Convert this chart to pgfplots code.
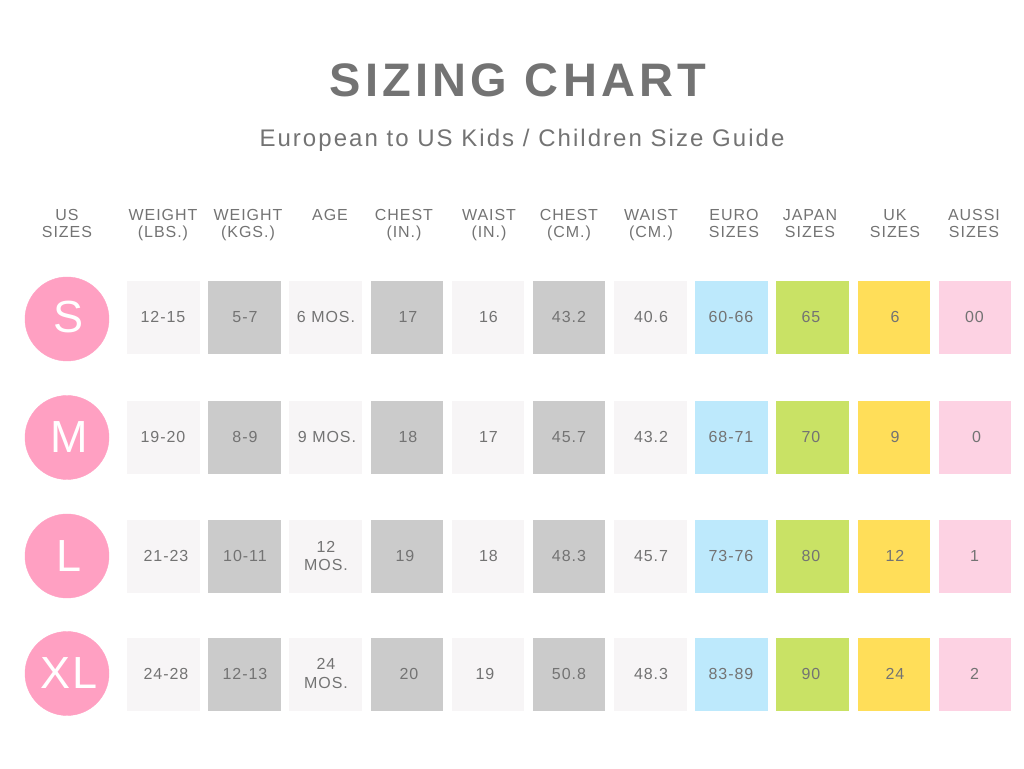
\documentclass[border=0pt]{standalone}
\usepackage{pgfplots}
\pgfplotsset{compat=1.18}
\usepackage{fontspec}
\setmainfont{Liberation Sans}
\newfontfamily\ls[LetterSpace=6]{Liberation Sans}
\newfontfamily\lst[LetterSpace=9]{Liberation Sans}
\newfontfamily\lss[LetterSpace=8.5]{Liberation Sans}
\definecolor{txt}{HTML}{737373}
\definecolor{lg}{HTML}{F7F5F6}
\definecolor{dg}{HTML}{CBCBCB}
\definecolor{bl}{HTML}{BDE9FC}
\definecolor{gr}{HTML}{C9E265}
\definecolor{ye}{HTML}{FFDE59}
\definecolor{pk}{HTML}{FDD2E3}
\definecolor{cp}{HTML}{FFA0C2}
% single-line cell: baseline placed 5.5 below the row centre
\newcommand{\cell}[3]{\node[anchor=base,inner sep=0pt,text=txt,font={\ls\fontsize{16}{18.5}\selectfont}] at (axis cs:#1,#2+5.5) {#3};}
% two-line cell
\newcommand{\cellt}[3]{\node[anchor=center,inner sep=0pt,align=center,text=txt,font={\ls\fontsize{16}{18.5}\selectfont}] at (axis cs:#1,#2) {#3};}
\newcommand{\hdr}[2]{\node[anchor=north,inner sep=0pt,align=center,text=txt,font={\ls\fontsize{16}{17.5}\selectfont}] at (axis cs:#1,209) {#2};}
\begin{document}
\begin{tikzpicture}
\begin{axis}[
  scale only axis, width=1024pt, height=768pt,
  xmin=0, xmax=1024, ymin=0, ymax=768, y dir=reverse,
  hide axis, clip=false, set layers=standard, mark layer=axis background]
\path (axis cs:0,0) rectangle (axis cs:1024,768);
% circles
\addplot[cp, only marks, mark=*, mark size=42] coordinates {(67,319) (67,437.5) (67,556) (67,673.5)};
% light cells
\addplot[lg, only marks, mark=square*, mark size=35.8] coordinates {
 (163,317.5) (163,437.5) (163,556.5) (163,674)
 (325.3,317.5) (325.3,437.5) (325.3,556.5) (325.3,674)
 (487.6,317.5) (487.6,437.5) (487.6,556.5) (487.6,674)
 (650,317.5) (650,437.5) (650,556.5) (650,674)};
% gray cells
\addplot[dg, only marks, mark=square*, mark size=35.8] coordinates {
 (244.2,317.5) (244.2,437.5) (244.2,556.5) (244.2,674)
 (406.5,317.5) (406.5,437.5) (406.5,556.5) (406.5,674)
 (568.8,317.5) (568.8,437.5) (568.8,556.5) (568.8,674)};
\addplot[bl, only marks, mark=square*, mark size=35.8] coordinates {(731,317.5) (731,437.5) (731,556.5) (731,674)};
\addplot[gr, only marks, mark=square*, mark size=35.8] coordinates {(812.3,317.5) (812.3,437.5) (812.3,556.5) (812.3,674)};
\addplot[ye, only marks, mark=square*, mark size=35.8] coordinates {(893.5,317.5) (893.5,437.5) (893.5,556.5) (893.5,674)};
\addplot[pk, only marks, mark=square*, mark size=35.8] coordinates {(974.6,317.5) (974.6,437.5) (974.6,556.5) (974.6,674)};
% title
\node[anchor=base,inner sep=0pt,text=txt,font={\lst\bfseries\fontsize{47}{50}\selectfont}] at (axis cs:518,97) {SIZING CHART};
\node[anchor=base,inner sep=0pt,text=txt,font={\lss\fontsize{24}{26}\selectfont}] at (axis cs:522,147) {European to US Kids / Children Size Guide};
% headers
\hdr{67}{US\\SIZES}
\hdr{163}{WEIGHT\\(LBS.)}
\hdr{248}{WEIGHT\\(KGS.)}
\hdr{330}{AGE}
\hdr{404}{CHEST\\(IN.)}
\hdr{489}{WAIST\\(IN.)}
\hdr{569}{CHEST\\(CM.)}
\hdr{651}{WAIST\\(CM.)}
\hdr{734}{EURO\\SIZES}
\hdr{810}{JAPAN\\SIZES}
\hdr{895}{UK\\SIZES}
\hdr{974}{AUSSI\\SIZES}
% circle letters
\node[anchor=center,inner sep=0pt,text=white,font={\ls\fontsize{45}{48}\selectfont}] at (axis cs:69,317.5) {S};
\node[anchor=center,inner sep=0pt,text=white,font={\ls\fontsize{45}{48}\selectfont}] at (axis cs:69,437.5) {M};
\node[anchor=center,inner sep=0pt,text=white,font={\ls\fontsize{45}{48}\selectfont}] at (axis cs:69,556) {L};
\node[anchor=center,inner sep=0pt,text=white,font={\ls\fontsize{45}{48}\selectfont}] at (axis cs:69,673.5) {XL};
% row S
\cell{163}{317.5}{12-15}\cell{245}{317.5}{5-7}\cell{326}{317.5}{6 MOS.}\cell{408}{317.5}{17}\cell{488.5}{317.5}{16}\cell{569}{317.5}{43.2}\cell{651}{317.5}{40.6}\cell{731}{317.5}{60-66}\cell{811}{317.5}{65}\cell{895}{317.5}{6}\cell{974.5}{317.5}{00}
% row M
\cell{163}{437.5}{19-20}\cell{245}{437.5}{8-9}\cell{327}{437.5}{9 MOS.}\cell{408}{437.5}{18}\cell{488.5}{437.5}{17}\cell{569}{437.5}{45.7}\cell{651}{437.5}{43.2}\cell{731}{437.5}{68-71}\cell{811}{437.5}{70}\cell{895}{437.5}{9}\cell{976.5}{437.5}{0}
% row L
\cell{166}{556}{21-23}\cell{245}{556}{10-11}\cellt{326}{556}{12\\MOS.}\cell{405}{556}{19}\cell{488.5}{556}{18}\cell{569}{556}{48.3}\cell{651}{556}{45.7}\cell{731}{556}{73-76}\cell{811}{556}{80}\cell{895}{556}{12}\cell{974.5}{556}{1}
% row XL
\cell{166}{673.5}{24-28}\cell{245}{673.5}{12-13}\cellt{326}{673.5}{24\\MOS.}\cell{409}{673.5}{20}\cell{485}{673.5}{19}\cell{569}{673.5}{50.8}\cell{651}{673.5}{48.3}\cell{731}{673.5}{83-89}\cell{811}{673.5}{90}\cell{895}{673.5}{24}\cell{974.5}{673.5}{2}
\end{axis}
\end{tikzpicture}
\end{document}
